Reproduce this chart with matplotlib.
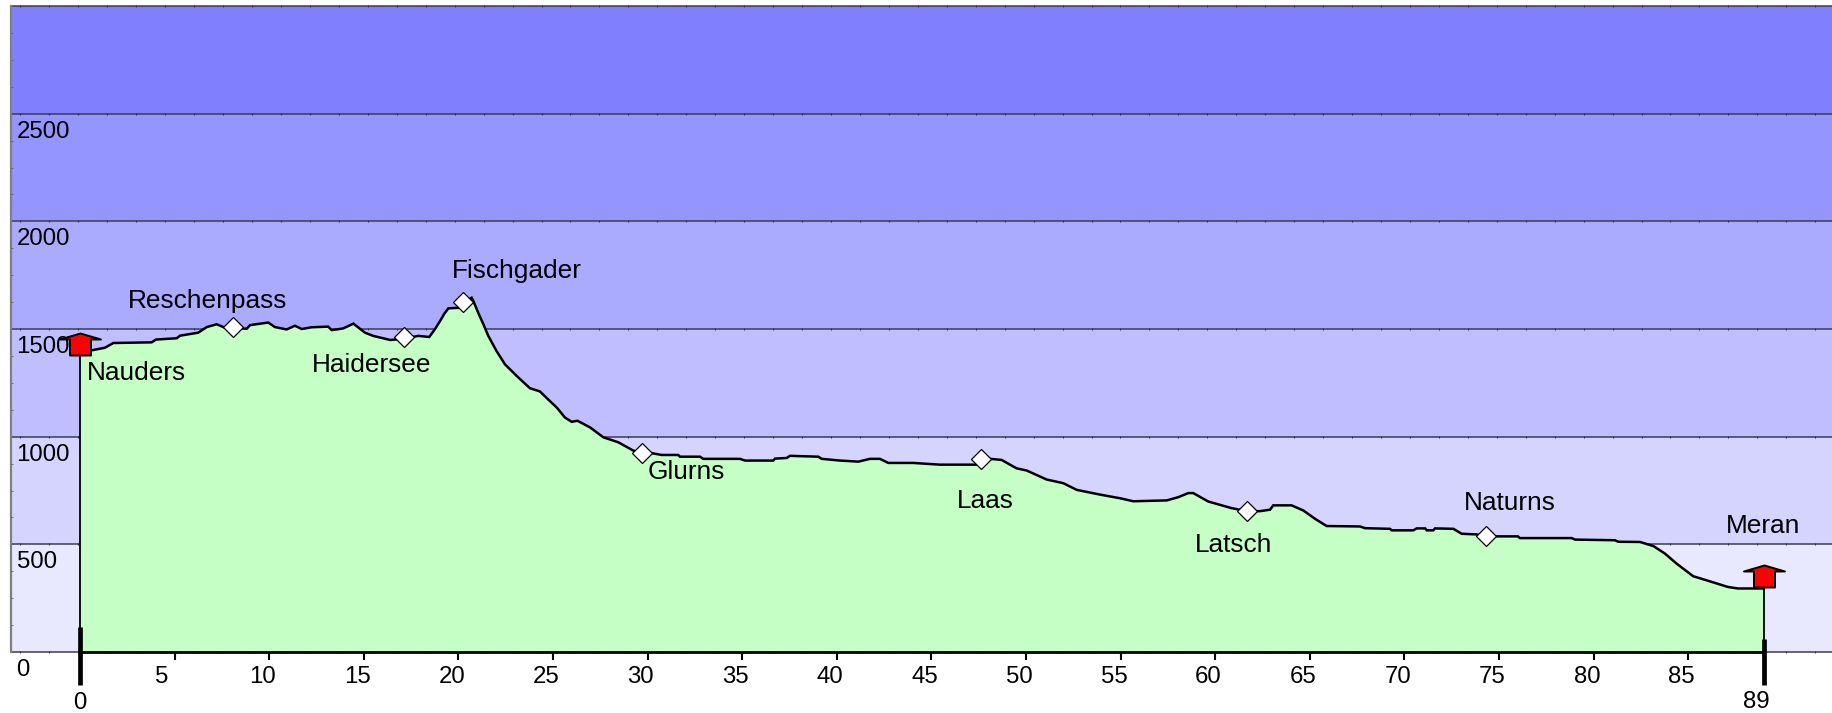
import matplotlib
matplotlib.use("Agg")
import matplotlib.pyplot as plt
import numpy as np
from matplotlib.path import Path

plt.rcParams['font.family'] = ['Liberation Sans', 'DejaVu Sans']

# elevation profile
km = [0, 0.62, 1.32, 1.76, 3.79, 4.02, 5.11, 5.29, 6.25, 6.7, 7.22, 7.66, 8.1, 8.81, 8.99, 9.95, 10.3,
      10.92, 11.36, 11.72, 12.24, 13.12, 13.3, 13.57, 13.92, 14.45, 15.06, 15.5, 16.4, 17.14, 17.88, 18.46,
      18.75, 19.03, 19.25, 19.47, 20.17, 20.45, 20.7, 20.79, 21.05, 21.32, 21.58, 22.0, 22.46, 23.08, 23.78,
      24.31, 24.67, 25.2, 25.63, 25.99, 26.29, 26.96, 27.66, 28.45, 29.25, 29.69, 30.13, 30.74, 31.62, 31.71,
      32.77, 32.94, 34.88, 35.15, 36.64, 36.73, 37.35, 37.53, 39.02, 39.2, 40.17, 41.14, 41.75, 42.28,
      42.72, 44.04, 45.45, 47.48, 48.1, 48.71, 49.5, 50.03, 51.09, 51.97, 52.68, 53.91, 54.97, 55.67,
      57.44, 58.05, 58.58, 58.84, 59.63, 60.87, 61.7, 62.37, 62.9, 63.07, 64.04, 64.66, 65.27, 65.89,
      67.65, 67.92, 69.24, 69.33, 70.47, 70.65, 71.1, 71.18, 71.53, 71.62, 72.59, 73.03, 73.82, 74.3,
      76.0, 76.1, 78.84, 79.02, 81.13, 81.3, 82.45, 83.16, 83.77, 84.38, 85.26, 85.97, 87.1, 87.63, 88.5, 89]
elev = [1380, 1401, 1413, 1435, 1438, 1451, 1457, 1469, 1483, 1509, 1522, 1506, 1506, 1501, 1518, 1530, 1509,
        1498, 1515, 1500, 1508, 1511, 1495, 1498, 1503, 1525, 1483, 1468, 1449, 1455, 1468, 1463,
        1498, 1537, 1570, 1596, 1599, 1630, 1645, 1630, 1575, 1522, 1468, 1400, 1336, 1282, 1225,
        1210, 1179, 1135, 1089, 1069, 1074, 1043, 997, 974, 935, 925, 925, 915, 915, 907,
        907, 897, 897, 889, 889, 898, 901, 911, 907, 897, 889, 884, 897, 897,
        878, 878, 870, 870, 897, 892, 853, 843, 801, 784, 753, 731, 714, 700,
        704, 719, 738, 738, 699, 668, 654, 654, 661, 681, 681, 657, 619, 585,
        583, 575, 572, 565, 565, 574, 574, 565, 565, 574, 572, 549, 546, 537,
        537, 529, 529, 522, 519, 512, 511, 492, 457, 411, 352, 333, 302, 295, 295, 295]

# waypoints with diamond markers
place_names = ['Reschenpass', 'Haidersee', 'Fischgader', 'Glurns', 'Laas', 'Latsch', 'Naturns']
place_km = [8.1, 17.14, 20.23, 29.69, 47.6, 61.7, 74.3]
place_elev = [1509, 1463, 1626, 925, 897, 654, 537]
place_off = [(-25.6, 26), (-33, -28), (54, 30.7), (45, -18.7), (5, -41.7), (-14, -34), (24, 33)]

# start and end of the route
end_names = ['Nauders', 'Meran']
end_km = [0, 89]
end_elev = [1380, 300]
end_off = [(56.7, -18.6), (-1, 61)]
end_tick_top = [115, 60]

band_edges = [0, 500, 1000, 1500, 2000, 2500, 3000]
band_colors = ['#E8E8FF', '#D4D4FF', '#BFBFFF', '#AAAAFF', '#9595FF', '#8080FF']
y_labels = ['0', '500', '1000', '1500', '2000', '2500']
x_ticks = list(range(5, 90, 5))

W, H = 1832, 713
PT = 0.72  # points per pixel at dpi 100
PX_KM = 18.92
PX_M = 646 / 3000
x_left = -69 / PX_KM
x_right = (W - 80) / PX_KM

fig = plt.figure(figsize=(W / 100, H / 100), dpi=100, facecolor='white')
ax = fig.add_axes([11 / W, (H - 652) / H, (W - 11) / W, 646 / H])
ax.set_xlim(x_left, x_right)
ax.set_ylim(0, 3000)
ax.axis('off')

for i in range(len(band_colors)):
    ax.axhspan(band_edges[i], band_edges[i + 1], color=band_colors[i], lw=0, zorder=1)
for e in band_edges:
    ax.plot([x_left, x_right], [e, e], color='#3c3c4e', lw=1.1, zorder=2, clip_on=False)
    # tiny marks along the band lines
    marks = np.arange(x_left + 0.5, x_right, 1.53)
    ax.vlines(marks, e - 1 / PX_M, e + 1 / PX_M, color='#30304a', lw=0.7, zorder=2, clip_on=False)
ax.plot([x_left, x_left], [0, 3000], color='#808080', lw=1.6, zorder=2, clip_on=False)
ax.hlines(np.arange(0, 3000, 125), x_left - 1 / PX_KM, x_left + 1.5 / PX_KM, color='#666666', lw=0.6, zorder=2)

ax.fill_between(km, 0, elev, color='#C6FFC6', lw=0, zorder=3)
ax.plot(km, elev, color='black', lw=1.8, zorder=4, solid_joinstyle='miter')

# bottom axis, thick ticks at both ends
ax.plot([0, 89], [0, 0], color='black', lw=2, zorder=5, clip_on=False)
for k in x_ticks:
    ax.plot([k, k], [0, -8 / PX_M], color='black', lw=1.5, clip_on=False, zorder=5, solid_capstyle='butt')
    ax.annotate(str(k), xy=(k, 0), xytext=(-20 * PT, -25 * PT), textcoords='offset points',
                fontsize=17.3, ha='left', va='center', annotation_clip=False)

for k, e, top in zip(end_km, end_elev, end_tick_top):
    ax.plot([k, k], [0, e], color='black', lw=1.3, zorder=5)
    ax.plot([k, k], [-33 / PX_M, top], color='black', lw=3.4, clip_on=False, zorder=6, solid_capstyle='butt')

ax.annotate('0', xy=(0, 0), xytext=(0, -51 * PT), textcoords='offset points',
            fontsize=17.3, ha='center', va='center', annotation_clip=False)
ax.annotate('89', xy=(89, 0), xytext=(-8 * PT, -50 * PT), textcoords='offset points',
            fontsize=17.3, ha='center', va='center', annotation_clip=False)

# y labels sit just below their lines
for e, s in zip(band_edges, y_labels):
    ax.annotate(s, xy=(x_left, e), xytext=(5.5 * PT, -18 * PT), textcoords='offset points',
                fontsize=17.3, ha='left', va='center', annotation_clip=False, zorder=7)

# house shaped arrow, anchored at the bottom of its body
arrow = Path([(-10.5, 0), (10.5, 0), (10.5, 16), (20.5, 16), (0, 22), (-20.5, 16), (-10.5, 16), (-10.5, 0)], closed=True)
ax.plot(end_km, end_elev, ls='none', marker=arrow, ms=44 * PT, mfc='#FF0000', mec='black', mew=1.4, zorder=7,
        clip_on=False)

ax.plot(place_km, place_elev, ls='none', marker='D', ms=13.5 * PT, mfc='white', mec='black', mew=0.9, zorder=7)

for name, k, e, off in zip(place_names + end_names, place_km + end_km, place_elev + end_elev, place_off + end_off):
    ax.annotate(name, xy=(k, e), xytext=(off[0] * PT, off[1] * PT), textcoords='offset points',
                fontsize=18.9, ha='center', va='center', zorder=8)

fig.savefig('out.png', dpi=100)
